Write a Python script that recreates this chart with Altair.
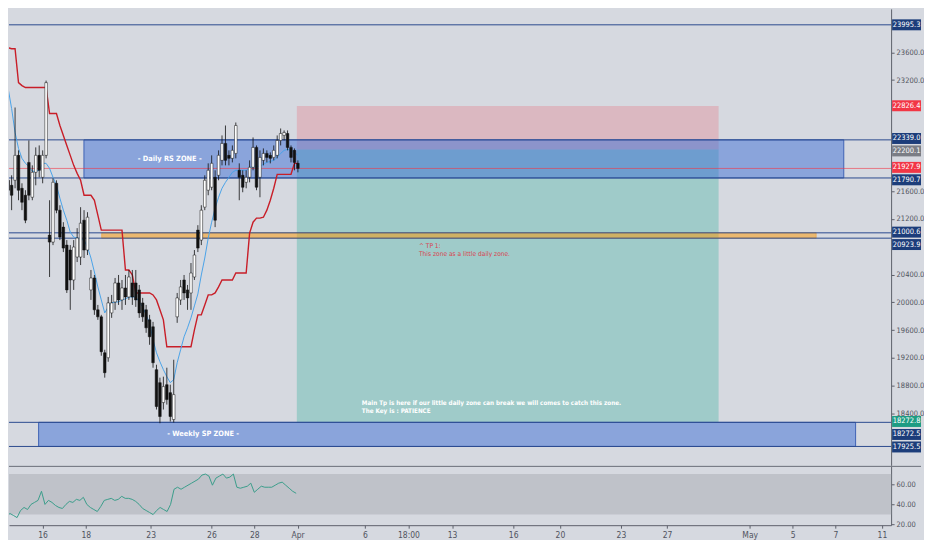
import json
import altair as alt
import pandas as pd

# ---------------- candle data (hourly bars, index = bar number) ----------------
opens = [21757, 21685, 21757, 22116, 21642, 21542, 22015, 21513, 21872, 22116,
         21800, 22116, 20968, 20867, 21714, 21327, 21083, 20824, 20753, 20322,
         20652, 20652, 21183, 20753, 20179, 20351, 19892, 19791, 19274, 19203,
         19848, 20006, 20279, 20035, 20207, 20078, 20279, 20279, 20179, 19992,
         19892, 19748, 19648, 19031, 18844, 18557, 18815, 18700, 18313, 19791,
         20035, 20322, 20179, 20135, 20365, 21040, 20896, 21370, 21614, 21657,
         21800, 21829, 22044, 22288, 22116, 22073, 22144, 21901, 21829, 21728,
         21800, 21944, 22231, 21800, 22044, 22144, 22116, 22087, 22116, 22331,
         22403, 22431, 22231, 22188, 22001]
closes = [21614, 21542, 22116, 21614, 21441, 21183, 21542, 21872, 22116, 21901,
          22116, 23163, 20867, 21728, 21327, 20939, 20781, 20179, 20322, 20796,
          20925, 21140, 20753, 21226, 20351, 19892, 19791, 19289, 18987, 19992,
          19992, 20279, 20035, 20207, 20078, 20365, 20078, 20035, 19848, 19791,
          19633, 19504, 19131, 18500, 18356, 18787, 18600, 18356, 18672, 20064,
          20222, 20135, 20064, 20422, 20681, 20781, 21327, 21757, 21901, 22001,
          21183, 22116, 22288, 22044, 22073, 22188, 22546, 21800, 21657, 21800,
          21944, 22231, 21657, 22087, 22144, 22087, 22073, 22188, 22331, 22431,
          22446, 22231, 22087, 22015, 21928]
highs = [21872, 21829, 22805, 22188, 21714, 21614, 22331, 21972, 22231, 22259,
         22188, 23192, 21470, 21786, 21757, 21398, 21154, 20896, 20824, 20896,
         21068, 21370, 21327, 21298, 20466, 20394, 19963, 19820, 19318, 20078,
         20107, 20351, 20394, 20322, 20394, 20466, 20466, 20466, 20250, 20064,
         19963, 19820, 19719, 19102, 18916, 18930, 19059, 18815, 19174, 20135,
         20322, 20394, 20250, 20566, 20753, 21111, 21398, 21829, 22001, 22116,
         21901, 22188, 22403, 22546, 22188, 22259, 22589, 22001, 21901, 21901,
         22044, 22374, 22259, 22188, 22216, 22188, 22159, 22259, 22403, 22503,
         22475, 22475, 22259, 22216, 22044]
lows = [21470, 21327, 21642, 21470, 21327, 21140, 21470, 21470, 21685, 21800,
        21714, 22073, 20365, 20824, 21283, 20896, 20724, 20135, 19892, 20179,
        20580, 20537, 20638, 20681, 20035, 19820, 19748, 19231, 18916, 19145,
        19777, 19892, 19963, 19892, 19963, 20035, 19963, 19935, 19777, 19719,
        19561, 19389, 19059, 18457, 18260, 18457, 18528, 18284, 18270, 19705,
        19963, 20035, 19892, 19892, 20322, 20724, 20824, 21327, 21542, 21614,
        21083, 21757, 21972, 21972, 21972, 22015, 22073, 21470, 21585, 21642,
        21728, 21901, 21614, 21513, 21972, 22015, 22001, 22044, 22073, 22259,
        22331, 22188, 22015, 21901, 21872]
# red step line (baseline indicator)
red_line = [23666, 23651, 23651, 23163, 23120, 23092, 23092, 23092, 23092, 23092,
            23092, 23092, 22718, 22718, 22718, 22546, 22403, 22259, 22116, 21972,
            21857, 21757, 21542, 21542, 21542, 21470, 21255, 21040, 21040, 21040,
            21040, 21040, 21040, 21040, 20466, 20466, 20394, 20135, 20135, 20135,
            20135, 20135, 20107, 20035, 19892, 19748, 19361, 19361, 19361, 19361,
            19361, 19361, 19361, 19361, 19605, 19820, 19820, 19963, 20107, 20107,
            20135, 20222, 20322, 20322, 20322, 20322, 20422, 20422, 20422, 20422,
            20996, 21154, 21212, 21212, 21226, 21327, 21470, 21642, 21843, 21843,
            21843, 21843, 21843, 22001, 22001]
# blue moving average
blue_line = [23077, 22790, 22446, 22216, 22073, 22001, 21958, 21886, 21886, 21901,
             22001, 22001, 21929, 21800, 21685, 21499, 21327, 21183, 21011, 20939,
             20925, 20910, 20896, 20796, 20638, 20437, 20222, 20035, 19848, 19935,
             19992, 20006, 20006, 20035, 20049, 20078, 20078, 20078, 20006, 19935,
             19820, 19705, 19461, 19274, 19145, 19031, 18930, 18844, 18887, 19131,
             19318, 19504, 19633, 19777, 19949, 20121, 20394, 20638, 20925, 21154,
             21355, 21513, 21642, 21728, 21800, 21872, 21901, 21901, 21901, 21901,
             21929, 21972, 21958, 21958, 21987, 22015, 22030, 22044, 22087, 22144,
             22188, 22202, 22188, 22159, 22116]
# RSI
rsi = [24, 29, 31, 29, 27, 34, 37, 35, 40, 42,
       44, 53, 40, 44, 42, 39, 37, 36, 40, 43,
       42, 45, 44, 47, 40, 37, 35, 33, 38, 44,
       45, 46, 44, 45, 48, 46, 46, 45, 43, 40,
       36, 34, 32, 30, 34, 37, 35, 33, 40, 55,
       57, 55, 57, 59, 61, 63, 65, 69, 70, 68,
       59, 66, 68, 70, 66, 67, 70, 57, 56, 57,
       58, 61, 52, 55, 58, 57, 57, 57, 59, 61,
       62, 59, 56, 53, 51]
rsi_band = [30, 70]

# ---------------- drawings (bar index / price) ----------------
blue_zone_start = [21.97, 8.83]
blue_zone_end = [242.26, 245.69]
blue_zone_top = [22339.0, 18272.5]
blue_zone_bottom = [21790.7, 17925.5]

orange_zone = {"x0": 27.11, "x1": 234.26, "y0": 21000.6, "y1": 20923.9}

pos_start, pos_end = 83.69, 205.97
stop_price, entry_price, target_price = 22826.4, 22200.1, 18272.8

levels = [23995.3, 22339.0, 21790.7, 21000.6, 20923.9, 18272.5, 17925.5]
last_price = 21927.9

zone_titles = ["- Daily RS ZONE -", "- Weekly SP ZONE -"]
zone_title_x = [46.83, 56.54]
zone_title_y = [22065, 18099]

tp_lines = ["^ TP 1:", "This zone as a little daily zone."]
tp_x = 119.11
tp_y = [20810, 20695]

main_lines = ["Main Tp is here if our little daily zone can break we will comes to catch this zone.",
              "The Key is : PATIENCE"]
main_x = 102.54
main_y = [18557, 18442]

price_labels = ["23995.3", "22826.4", "22339.0", "22200.1", "21927.9", "21790.7",
                "21000.6", "20923.9", "18272.8", "18272.5", "17925.5"]
price_label_at = [23995.3, 22830, 22359, 22180, 21943, 21764, 21011, 20832, 18285, 18098, 17918]
price_label_col = ["#1c3d7a", "#f23645", "#1c3d7a", "#7a7d85", "#f23645", "#1c3d7a",
                   "#1c3d7a", "#1c3d7a", "#1e9c83", "#1c3d7a", "#1c3d7a"]

price_ticks = [18400, 18800, 19200, 19600, 20000, 20400, 21200, 21600, 23200, 23600]
time_tick_pos = [11.3, 23.7, 42.3, 59.7, 72.0, 84.4, 103.7, 116.2, 128.7, 146.2,
                 159.6, 177.1, 190.3, 214.0, 226.3, 238.6, 251.9]
time_tick_lab = ["16", "18", "23", "26", "28", "Apr", "6", "18:00", "13", "16",
                 "20", "23", "27", "May", "5", "7", "11"]

# ---------------- chart ----------------
FONT = "Liberation Sans Narrow, DejaVu Sans Condensed, sans-serif"
BG = "#d6d9e0"
NAVY = "#2b4a8f"
W, HP, HR = 885, 458, 59
LABEL_X = W + 15.5

xs = alt.Scale(domain=[1.686, 254.54], nice=False, zero=False)
ys = alt.Scale(domain=[17653.0, 24225.0], nice=False, zero=False)
rs = alt.Scale(domain=[19.5, 77.6], nice=False, zero=False)

yaxis = alt.Axis(orient="right", values=price_ticks, format=".1f", grid=False,
                 domainColor="#5d606b", tickColor="#5d606b", tickSize=3,
                 labelColor="#50535e", labelFont=FONT, labelFontSize=7.5,
                 labelPadding=2)


def X(f):
    return alt.X(f, type="quantitative", scale=xs, axis=None, title=None)


def Y(f):
    return alt.Y(f, type="quantitative", scale=ys, axis=yaxis, title=None)


df = pd.DataFrame({"i": list(range(len(opens))), "open": opens, "high": highs,
                   "low": lows, "close": closes, "kijun": red_line, "ema": blue_line,
                   "rsi": rsi})

pos_df = pd.DataFrame({"x0": [pos_start, pos_start], "x1": [pos_end, pos_end],
                       "y0": [stop_price, entry_price], "y1": [entry_price, target_price],
                       "c": ["#f23645", "#22ab94"], "o": [0.2, 0.3]})
pos_layer = alt.Chart(pos_df).mark_rect(clip=True).encode(
    x=X("x0"), x2="x1", y=Y("y0"), y2="y1",
    color=alt.Color("c:N", scale=None), opacity=alt.Opacity("o:Q", scale=None))

zone_df = pd.DataFrame({"x0": blue_zone_start, "x1": blue_zone_end,
                        "y0": blue_zone_top, "y1": blue_zone_bottom})
zone_layer = alt.Chart(zone_df).mark_rect(
    clip=True, fill="#3d6fd6", fillOpacity=0.5, stroke="#3f63b5", strokeWidth=1).encode(
    x=X("x0"), x2="x1", y=Y("y0"), y2="y1")

orange_layer = alt.Chart(pd.DataFrame([orange_zone])).mark_rect(
    clip=True, fill="#ff9800", fillOpacity=0.5, stroke="#f0a030", strokeWidth=0.6).encode(
    x=X("x0"), x2="x1", y=Y("y0"), y2="y1")

level_layer = alt.Chart(pd.DataFrame({"p": levels})).mark_rule(
    color=NAVY, strokeWidth=1).encode(y=Y("p"))

last_layer = alt.Chart(pd.DataFrame({"p": [last_price]})).mark_rule(
    color="#f23645", strokeWidth=1, opacity=0.6).encode(y=Y("p"))

red_layer = alt.Chart(df).mark_line(clip=True, color="#c81e28", strokeWidth=1.4).encode(
    x=X("i"), y=Y("kijun"))
blue_layer = alt.Chart(df).mark_line(clip=True, color="#4aa3e8", strokeWidth=1).encode(
    x=X("i"), y=Y("ema"))

wick_layer = alt.Chart(df).mark_rule(clip=True, color="#111111", strokeWidth=0.8).encode(
    x=X("i"), y=Y("low"), y2="high")
body_layer = alt.Chart(df).mark_bar(clip=True, size=2.6, stroke="#111111", strokeWidth=0.5).encode(
    x=X("i"), y=Y("open"), y2="close",
    color=alt.condition("datum.close >= datum.open", alt.value("#ffffff"), alt.value("#111111")))

zt_layer = alt.Chart(pd.DataFrame({"t": zone_titles, "x": zone_title_x, "y": zone_title_y})).mark_text(
    color="white", font=FONT, fontSize=7.4, fontWeight="bold", align="center", baseline="middle").encode(
    x=X("x"), y=Y("y"), text="t:N")

tp_layer = alt.Chart(pd.DataFrame({"t": tp_lines, "x": [tp_x, tp_x], "y": tp_y})).mark_text(
    color="#d9434f", font=FONT, fontSize=6.6, align="left", baseline="middle").encode(
    x=X("x"), y=Y("y"), text="t:N")

main_layer = alt.Chart(pd.DataFrame({"t": main_lines, "x": [main_x, main_x], "y": main_y})).mark_text(
    color="white", font=FONT, fontSize=6.3, fontWeight="bold", align="left", baseline="middle").encode(
    x=X("x"), y=Y("y"), text="t:N")

lab_df = pd.DataFrame({"t": price_labels, "at": price_label_at, "c": price_label_col})
lab_box = alt.Chart(lab_df).mark_tick(orient="horizontal", size=29, thickness=11, opacity=1).encode(
    y=Y("at"), x=alt.value(LABEL_X), color=alt.Color("c:N", scale=None))
lab_txt = alt.Chart(lab_df).mark_text(color="white", font=FONT, fontSize=7.5,
                                      align="center", baseline="middle").encode(
    y=Y("at"), x=alt.value(LABEL_X), text="t:N")

price = alt.layer(pos_layer, orange_layer, zone_layer, level_layer, last_layer,
                  red_layer, blue_layer, wick_layer, body_layer,
                  zt_layer, tp_layer, main_layer, lab_box, lab_txt).properties(width=W, height=HP)

# ---------------- RSI panel ----------------
label_expr = f"{json.dumps(time_tick_lab)}[indexof({json.dumps(time_tick_pos)}, datum.value)]"
xaxis = alt.Axis(values=time_tick_pos, labelExpr=label_expr, grid=False,
                 domainColor="#5d606b", tickColor="#5d606b", tickSize=3,
                 labelColor="#50535e", labelFont=FONT, labelFontSize=8.5, labelPadding=2,
                 labelFlush=False, labelOverlap=False)
raxis = alt.Axis(orient="right", values=[20, 40, 60], format=".2f", grid=False,
                 domainColor="#5d606b", tickColor="#5d606b", tickSize=3,
                 labelColor="#50535e", labelFont=FONT, labelFontSize=7.5, labelPadding=2)

band = alt.Chart(pd.DataFrame({"lo": [rsi_band[0]], "hi": [rsi_band[1]]})).mark_rect(
    fill="#bfc2c9").encode(
    y=alt.Y("hi:Q", scale=rs, axis=raxis, title=None), y2="lo",
    x=alt.value(0), x2=alt.value(W))
rsi_line = alt.Chart(df).mark_line(clip=True, color="#3b9e8b", strokeWidth=1).encode(
    x=alt.X("i:Q", scale=xs, axis=xaxis, title=None),
    y=alt.Y("rsi:Q", scale=rs, axis=raxis, title=None))
sep = alt.Chart(pd.DataFrame({"k": [0]})).mark_rule(color="#6a6d78", strokeWidth=1).encode(
    y=alt.value(0), x=alt.value(0), x2=alt.value(W + 30))

rsi_panel = alt.layer(band, rsi_line, sep).properties(width=W, height=HR)

chart = alt.vconcat(price, rsi_panel, spacing=0).properties(
    padding={"left": 0, "top": 0, "right": 0, "bottom": 0}
).configure(background=BG).configure_view(strokeWidth=0)

chart.save("out.html", embed_options={"renderer": "svg", "actions": False})
